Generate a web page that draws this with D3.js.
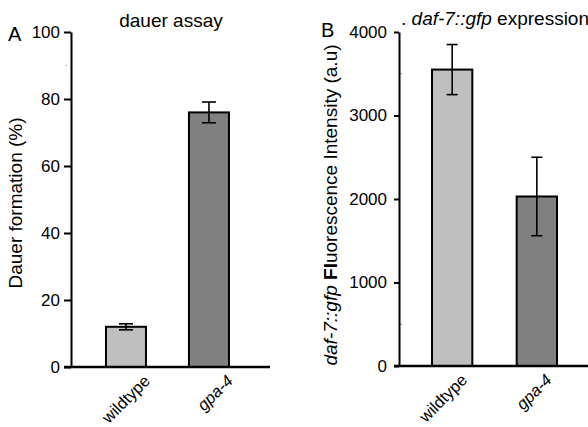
<!DOCTYPE html>
<html>
<head>
<meta charset="utf-8">
<script src="https://cdn.jsdelivr.net/npm/d3@7"></script>
<style>
  body { margin: 0; background: #fff; }
  svg { display: block; font-family: "Liberation Sans", Arial, sans-serif; }
</style>
</head>
<body>
<div id="chart"></div>
<script>
// data
const strains = ["wildtype", "gpa-4"];
const dauerPct = [12, 76];
const dauerErr = [0.9, 3.1];
const gfpValues = [3550, 2030];
const gfpErr = [300, 470];
const dauerTicks = [0, 20, 40, 60, 80, 100];
const gfpTicks = [0, 1000, 2000, 3000, 4000];
const barColors = ["#bfbfbf", "#808080"];

const W = 588, H = 427;
const svg = d3.select("#chart").append("svg")
  .attr("width", W).attr("height", H);

const fs = 19;      // titles / labels
const tickFs = 17;  // tick numbers
const labFs = 16.5; // rotated strain names

function panel(opts) {
  const g = svg.append("g");
  const x = d3.scaleBand()
    .domain(strains)
    .range(opts.xRange)
    .paddingInner(opts.padIn)
    .paddingOuter(opts.padOut)
    .align(opts.align);
  const y = d3.scaleLinear().domain(opts.domain).range(opts.yRange);
  const x0 = opts.xRange[0];
  const rows = strains.map((s, i) => ({ s, v: opts.values[i], e: opts.errs[i], c: barColors[i] }));

  // bars
  g.selectAll("rect.bar").data(rows).join("rect")
    .attr("class", "bar")
    .attr("x", d => x(d.s))
    .attr("width", x.bandwidth())
    .attr("y", d => y(d.v))
    .attr("height", d => y(0) - y(d.v))
    .attr("fill", d => d.c)
    .attr("stroke", "#000")
    .attr("stroke-width", 2);

  // error bars
  const eb = g.selectAll("g.err").data(rows).join("g").attr("class", "err")
    .attr("stroke", "#000").attr("stroke-width", 1.6);
  eb.append("line")
    .attr("x1", d => x(d.s) + x.bandwidth() / 2).attr("x2", d => x(d.s) + x.bandwidth() / 2)
    .attr("y1", d => y(d.v + d.e)).attr("y2", d => y(d.v - d.e));
  [1, -1].forEach(sg => {
    eb.append("line")
      .attr("x1", d => x(d.s) + x.bandwidth() / 2 - opts.cap / 2)
      .attr("x2", d => x(d.s) + x.bandwidth() / 2 + opts.cap / 2)
      .attr("y1", d => y(d.v + sg * d.e)).attr("y2", d => y(d.v + sg * d.e));
  });

  // faint minor ticks
  g.selectAll("line.minor").data(opts.minor).join("line")
    .attr("class", "minor")
    .attr("x1", x0 + opts.minorDx[0]).attr("x2", x0 + opts.minorDx[1])
    .attr("y1", d => y(d)).attr("y2", d => y(d))
    .attr("stroke", "#888").attr("stroke-width", 1);

  // y axis
  const ya = g.append("g")
    .attr("transform", `translate(${x0},0)`)
    .call(d3.axisLeft(y).tickValues(opts.ticks).tickFormat(d3.format("d"))
      .tickSize(opts.tickLen).tickSizeOuter(0).tickPadding(opts.tickPad));
  ya.attr("font-size", null).attr("font-family", null);
  ya.select(".domain").attr("stroke-width", 2);
  ya.selectAll(".tick line").attr("stroke-width", 2);
  ya.selectAll(".tick text")
    .style("font-size", tickFs + "px")
    .attr("fill", "#000");

  // x axis line
  g.append("line")
    .attr("x1", x0 - opts.tickLen).attr("x2", opts.xRange[1])
    .attr("y1", y(0)).attr("y2", y(0))
    .attr("stroke", "#000").attr("stroke-width", 2.4);

  // x labels
  g.selectAll("text.xl").data(rows).join("text")
    .attr("class", "xl")
    .attr("text-anchor", "end")
    .style("font-size", labFs + "px")
    .attr("font-style", d => d.s === "gpa-4" ? "italic" : "normal")
    .attr("transform", d => `translate(${x(d.s) + x.bandwidth() / 2 + opts.labDx},${y(0) + 15}) rotate(-45)`)
    .text(d => d.s);

  return { g, x, y };
}

// Panel A
panel({
  xRange: [71, 270], padIn: 0.518, padOut: 0.458, align: 0.46,
  domain: [0, 100], yRange: [367, 32],
  values: dauerPct, errs: dauerErr, ticks: dauerTicks,
  minor: [90], minorDx: [-5, -4],
  tickLen: 7, tickPad: 4, cap: 14, labDx: 25
});

// Panel B
panel({
  xRange: [399, 590], padIn: 0.524, padOut: 0.39, align: 0.5,
  domain: [0, 4000], yRange: [366, 32],
  values: gfpValues, errs: gfpErr, ticks: gfpTicks,
  minor: [500, 3500], minorDx: [0, 3],
  tickLen: 5, tickPad: 7, cap: 11, labDx: 16
});

// titles, panel letters, axis titles
svg.append("text").attr("x", 171).attr("y", 27).attr("text-anchor", "middle")
  .style("font-size", fs + "px").text("dauer assay");

const tB = svg.append("text").attr("x", 401).attr("y", 25).style("font-size", fs + "px");
tB.append("tspan").text(". ");
tB.append("tspan").attr("font-style", "italic").text("daf-7::gfp");
tB.append("tspan").text(" expression");

svg.append("text").attr("x", 8).attr("y", 41).style("font-size", "20px").text("A");
svg.append("text").attr("x", 321).attr("y", 37).style("font-size", "20px").text("B");

svg.append("text")
  .attr("transform", "translate(22,203) rotate(-90)")
  .attr("text-anchor", "middle").style("font-size", fs + "px")
  .text("Dauer formation (%)");

const yB = svg.append("text")
  .attr("transform", "translate(337,205) rotate(-90)")
  .attr("text-anchor", "middle").style("font-size", fs + "px");
yB.append("tspan").attr("font-style", "italic").text("daf-7::gfp");
yB.append("tspan").text(" ");
yB.append("tspan").attr("font-weight", "bold").text("Fl");
yB.append("tspan").text("uorescence Intensity (a.u)");
</script>
</body>
</html>
